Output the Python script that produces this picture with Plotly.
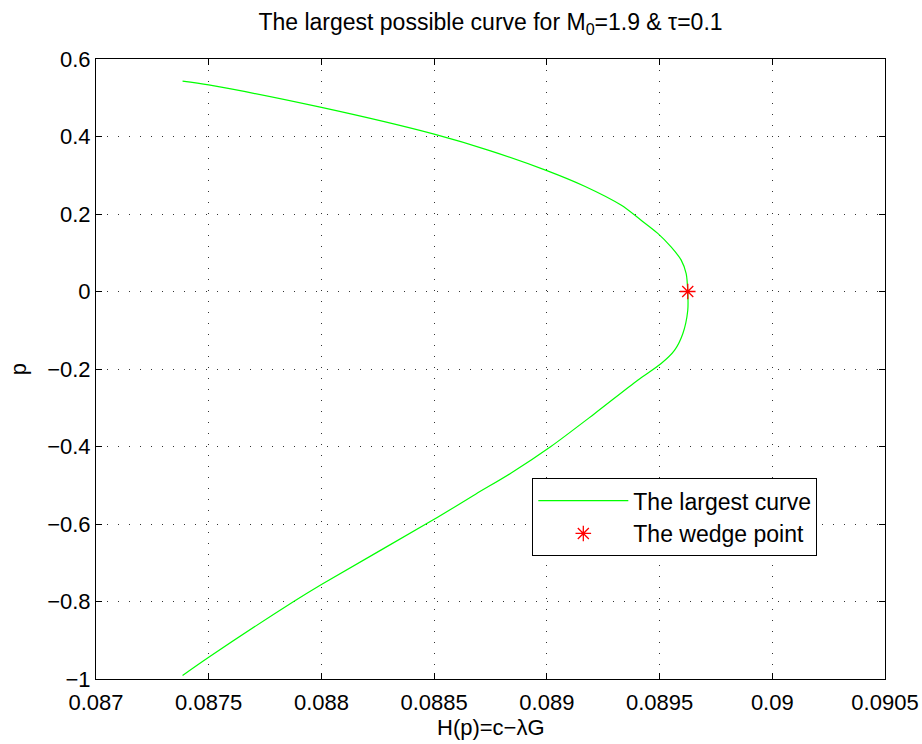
import plotly.graph_objects as go

# curve data (H(p), p)
h_vals = [0.087384, 0.0875, 0.0880, 0.0885, 0.08875, 0.0890, 0.08917, 0.089329, 0.089418,
          0.089492, 0.089551, 0.089596, 0.089618, 0.089625, 0.089625, 0.089603, 0.089566,
          0.089507, 0.089403, 0.08921, 0.089018, 0.08884, 0.088684, 0.0885, 0.0880,
          0.087877, 0.0875, 0.087384]
p_vals = [0.543, 0.533, 0.475, 0.406, 0.363, 0.312, 0.271, 0.223, 0.184,
          0.150, 0.115, 0.081, 0.046, 0.0, -0.049, -0.109, -0.152,
          -0.186, -0.229, -0.316, -0.400, -0.469, -0.523, -0.588, -0.756,
          -0.800, -0.944, -0.991]

wedge_h = [0.089625]
wedge_p = [0.0]

x_ticks = [0.087, 0.0875, 0.088, 0.0885, 0.089, 0.0895, 0.09, 0.0905]
x_labels = ["0.087", "0.0875", "0.088", "0.0885", "0.089", "0.0895", "0.09", "0.0905"]
y_ticks = [0.6, 0.4, 0.2, 0, -0.2, -0.4, -0.6, -0.8, -1]
y_labels = ["0.6", "0.4", "0.2", "0", "\u22120.2", "\u22120.4", "\u22120.6", "\u22120.8", "\u22121"]

FONT = "Liberation Sans, Arial, Helvetica"
L, R, T, B = 96, 37, 59, 65
PH = 744 - T - B

fig = go.Figure()
fig.add_trace(go.Scatter(x=h_vals, y=p_vals, mode="lines", name="The largest curve",
                         line=dict(color="#00ff00", width=1.2, shape="spline", smoothing=0.8)))
fig.add_trace(go.Scatter(x=wedge_h, y=wedge_p, mode="markers", name="The wedge point",
                         marker=dict(symbol="asterisk-open", size=13,
                                     line=dict(color="#ff0000", width=1.3), color="#ff0000")))

axis_common = dict(showline=True, linecolor="black", linewidth=1, mirror="ticks",
                   ticks="inside", ticklen=6, tickcolor="black", automargin=False,
                   showgrid=True, gridcolor="#333333", griddash="1px,10px", gridwidth=1,
                   zeroline=False, tickfont=dict(family=FONT, size=22, color="black"))

fig.update_layout(
    width=922, height=744,
    margin=dict(l=L, r=R, t=T, b=B),
    paper_bgcolor="white", plot_bgcolor="white",
    font=dict(family=FONT, color="black"),
    title=dict(text="The largest possible curve for M<sub>0</sub>=1.9 & \u03c4=0.1",
               x=(L + 922 - R) / 2 / 922, xanchor="center", y=1 - 22 / 744, yanchor="middle",
               font=dict(size=23, color="black")),
    xaxis=dict(range=[0.087, 0.0905], tickvals=x_ticks, ticktext=x_labels,
               ticklabelstandoff=4, **axis_common),
    yaxis=dict(range=[-1, 0.6], tickvals=y_ticks, ticktext=y_labels,
               title=dict(text="p", font=dict(size=22), standoff=14),
               **axis_common),
    legend=dict(x=0.553, y=0.324, xanchor="left", yanchor="top",
                bordercolor="black", borderwidth=1, bgcolor="white",
                itemwidth=90,
                font=dict(size=23, color="black"), tracegroupgap=0),
    showlegend=True,
    annotations=[dict(text="H(p)=c\u2212\u03bbG", xref="paper", yref="paper",
                      x=0.5, y=-(727 - (744 - B)) / PH, xanchor="center", yanchor="middle",
                      showarrow=False, font=dict(size=22, color="black"))],
)

fig.write_html("out.html")
